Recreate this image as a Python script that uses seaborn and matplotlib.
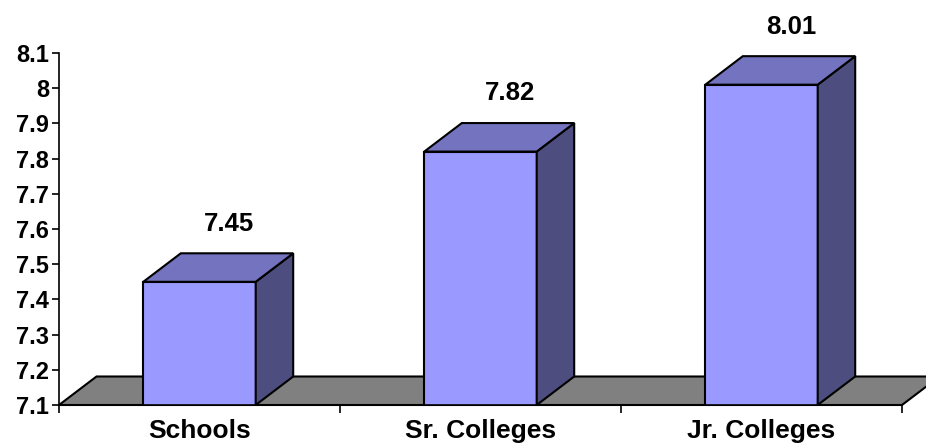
import matplotlib
matplotlib.use("Agg")
import matplotlib.pyplot as plt
import seaborn as sns
import pandas as pd
from matplotlib.patches import Polygon

# Mean scores by institution type
categories = ["Schools", "Sr. Colleges", "Jr. Colleges"]
scores = [7.45, 7.82, 8.01]
y_ticks = [7.1, 7.2, 7.3, 7.4, 7.5, 7.6, 7.7, 7.8, 7.9, 8.0, 8.1]
y_tick_labels = ["7.1", "7.2", "7.3", "7.4", "7.5", "7.6", "7.7", "7.8", "7.9", "8", "8.1"]

FRONT = "#9999FF"
TOP = "#7373BF"
SIDE = "#4D4D80"
FLOOR = "#808080"

sns.set_theme(style="white")
plt.rcParams["font.family"] = ["Liberation Sans", "DejaVu Sans"]

fig = plt.figure(figsize=(9.26, 4.44), dpi=100)
ax = fig.add_axes([59 / 926, 39 / 444, 843 / 926, 352 / 444])

df = pd.DataFrame({"category": categories, "score": scores})
sns.barplot(data=df, x="category", y="score", color=FRONT, saturation=1,
            width=0.4, edgecolor="black", linewidth=1.5, ax=ax, zorder=3)

y0, y1 = 7.1, 8.1
ax.set_ylim(y0, y1)
ax.set_xlim(-0.5, 2.5)

# depth of the 3-D extrusion in data units
ddx, ddy = 37.5 / 281, 28.5 / 352

# floor slab behind the bars
floor = Polygon([(-0.5, y0), (2.5, y0), (2.5 + ddx, y0 + ddy), (-0.5 + ddx, y0 + ddy)],
                closed=True, facecolor=FLOOR, edgecolor="black", linewidth=1.5,
                clip_on=False, zorder=1)
ax.add_patch(floor)

for patch, val in zip(ax.patches, scores):
    xl = patch.get_x()
    xr = xl + patch.get_width()
    top = Polygon([(xl, val), (xr, val), (xr + ddx, val + ddy), (xl + ddx, val + ddy)],
                  closed=True, facecolor=TOP, edgecolor="black", linewidth=1.5,
                  clip_on=False, zorder=3)
    side = Polygon([(xr, y0), (xr + ddx, y0 + ddy), (xr + ddx, val + ddy), (xr, val)],
                   closed=True, facecolor=SIDE, edgecolor="black", linewidth=1.5,
                   clip_on=False, zorder=3)
    ax.add_patch(side)
    ax.add_patch(top)
    cx = xl + patch.get_width() / 2
    ax.text(cx + 0.105, val + 0.165, f"{val:.2f}", ha="center", va="center",
            fontsize=18.5, fontweight="bold", color="black")

ax.set_yticks(y_ticks)
ax.set_yticklabels(y_tick_labels, fontsize=17, fontweight="bold")
ax.set_xticks([-0.5, 0.5, 1.5, 2.5])
ax.set_xticklabels([])
ax.set_xticks([0, 1, 2], minor=True)
ax.set_xticklabels(categories, minor=True, fontsize=19, fontweight="bold")
ax.tick_params(axis="x", which="major", direction="out", length=6, width=1.2,
               color="black", bottom=True)
ax.tick_params(axis="x", which="minor", length=0, pad=10, colors="black")
ax.tick_params(axis="y", direction="out", length=5, width=1.2, color="black",
               left=True, pad=2, labelcolor="black")
ax.set_xlabel("")
ax.set_ylabel("")

for s in ["top", "right"]:
    ax.spines[s].set_visible(False)
for s in ["left", "bottom"]:
    ax.spines[s].set_color("black")
    ax.spines[s].set_linewidth(1.2)
    ax.spines[s].set_zorder(4)

fig.savefig("out.png", dpi=100, facecolor="white")
